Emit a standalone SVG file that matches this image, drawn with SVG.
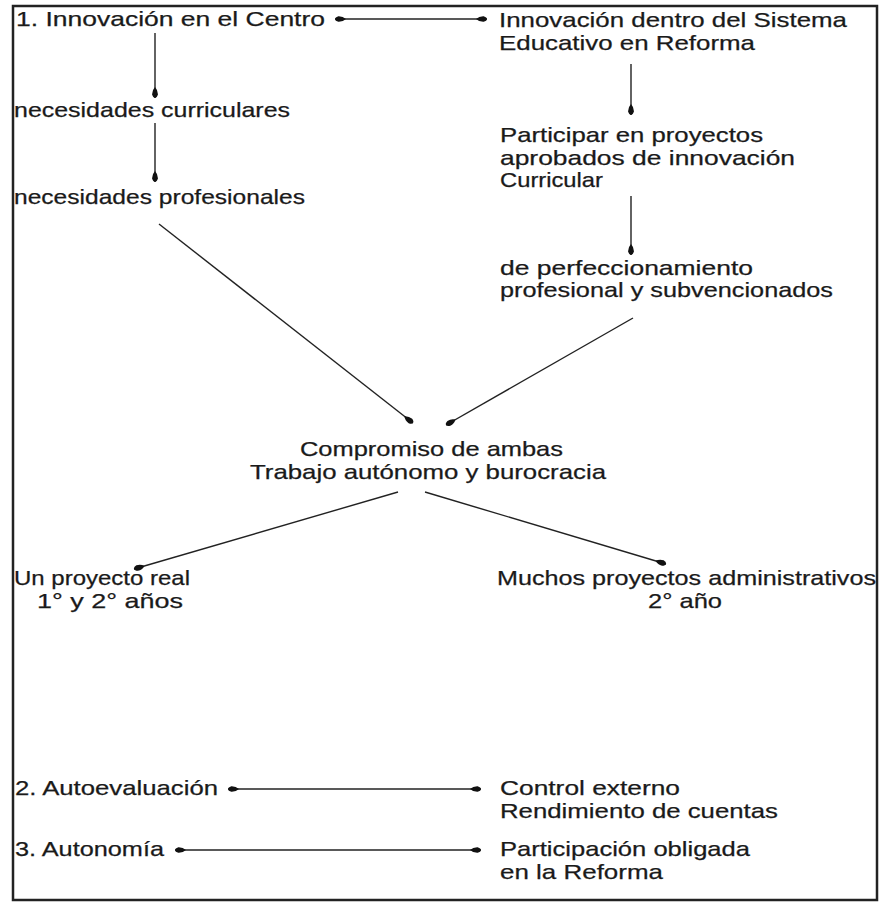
<svg xmlns="http://www.w3.org/2000/svg" width="882" height="906" viewBox="0 0 882 906">
<style>
text { font-family: "Liberation Sans", Arial, sans-serif; font-size: 21px; fill: #1a1a1a; stroke: #1a1a1a; stroke-width: 0.25; }
.c { stroke: #222; stroke-width: 1.4; fill: none; marker-end: url(#dot); }
.d { marker-start: url(#dot); }
</style>
<defs>
<marker id="dot" viewBox="0 0 10 6" refX="10" refY="3" markerWidth="11" markerHeight="7" markerUnits="userSpaceOnUse" orient="auto-start-reverse">
<path d="M0,3 Q3,0.2 7,0.4 Q10,1.3 10,3 Q10,4.7 7,5.6 Q3,5.8 0,3 Z" fill="#111"/>
</marker>
</defs>
<rect x="13" y="6" width="864" height="894" fill="#fff" stroke="#222" stroke-width="2.5"/>
<g id="connectors">
<line class="c d" x1="335" y1="19" x2="487" y2="19"/>
<line class="c" x1="155" y1="33" x2="155" y2="98"/>
<line class="c" x1="155" y1="123" x2="155" y2="182"/>
<line class="c" x1="631" y1="64" x2="631" y2="115"/>
<line class="c" x1="631" y1="196" x2="631" y2="255"/>
<line class="c" x1="159" y1="224" x2="413" y2="423"/>
<line class="c" x1="633" y1="318" x2="446" y2="425"/>
<line class="c" x1="398" y1="492" x2="134" y2="569"/>
<line class="c" x1="425" y1="492" x2="666" y2="564"/>
<line class="c d" x1="228" y1="789" x2="481" y2="789"/>
<line class="c d" x1="175" y1="850" x2="481" y2="850"/>
</g>
<g id="n1"><text x="16" y="26" textLength="309" lengthAdjust="spacingAndGlyphs">1. Innovación en el Centro</text></g>
<g id="n2"><text x="499" y="27" textLength="348" lengthAdjust="spacingAndGlyphs">Innovación dentro del Sistema</text><text x="499" y="50" textLength="256" lengthAdjust="spacingAndGlyphs">Educativo en Reforma</text></g>
<g id="n3"><text x="14" y="117" textLength="276" lengthAdjust="spacingAndGlyphs">necesidades curriculares</text></g>
<g id="n4"><text x="14" y="204" textLength="291" lengthAdjust="spacingAndGlyphs">necesidades profesionales</text></g>
<g id="n5"><text x="500" y="142" textLength="263" lengthAdjust="spacingAndGlyphs">Participar en proyectos</text><text x="500" y="165" textLength="295" lengthAdjust="spacingAndGlyphs">aprobados de innovación</text><text x="500" y="187" textLength="103" lengthAdjust="spacingAndGlyphs">Curricular</text></g>
<g id="n6"><text x="500" y="275" textLength="253" lengthAdjust="spacingAndGlyphs">de perfeccionamiento</text><text x="500" y="297" textLength="333" lengthAdjust="spacingAndGlyphs">profesional y subvencionados</text></g>
<g id="n7"><text x="300" y="456" textLength="263" lengthAdjust="spacingAndGlyphs">Compromiso de ambas</text><text x="250" y="479" textLength="356" lengthAdjust="spacingAndGlyphs">Trabajo autónomo y burocracia</text></g>
<g id="n8"><text x="14" y="585" textLength="176" lengthAdjust="spacingAndGlyphs">Un proyecto real</text><text x="37" y="608" textLength="146" lengthAdjust="spacingAndGlyphs">1° y 2° años</text></g>
<g id="n9"><text x="497" y="585" textLength="379" lengthAdjust="spacingAndGlyphs">Muchos proyectos administrativos</text><text x="648" y="608" textLength="74" lengthAdjust="spacingAndGlyphs">2° año</text></g>
<g id="n10"><text x="15" y="795" textLength="203" lengthAdjust="spacingAndGlyphs">2. Autoevaluación</text></g>
<g id="n11"><text x="500" y="795" textLength="180" lengthAdjust="spacingAndGlyphs">Control externo</text><text x="500" y="818" textLength="278" lengthAdjust="spacingAndGlyphs">Rendimiento de cuentas</text></g>
<g id="n12"><text x="15" y="856" textLength="149" lengthAdjust="spacingAndGlyphs">3. Autonomía</text></g>
<g id="n13"><text x="500" y="856" textLength="250" lengthAdjust="spacingAndGlyphs">Participación obligada</text><text x="500" y="879" textLength="163" lengthAdjust="spacingAndGlyphs">en la Reforma</text></g>
</svg>
